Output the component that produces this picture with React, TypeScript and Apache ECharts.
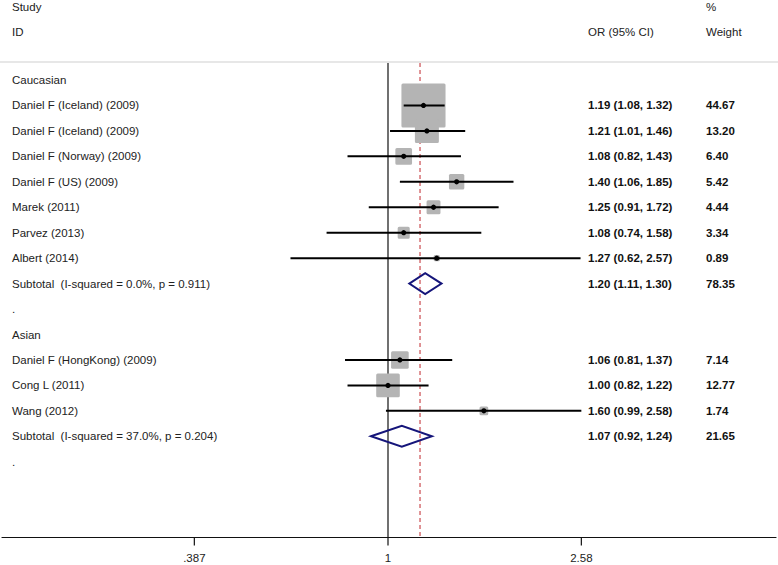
import React, { useEffect, useRef } from "react";
import * as echarts from "echarts";

const rowLabels = [
  "Caucasian",
  "Daniel F (Iceland) (2009)",
  "Daniel F (Iceland) (2009)",
  "Daniel F (Norway) (2009)",
  "Daniel F (US) (2009)",
  "Marek (2011)",
  "Parvez (2013)",
  "Albert (2014)",
  "Subtotal  (I-squared = 0.0%, p = 0.911)",
  ".",
  "Asian",
  "Daniel F (HongKong) (2009)",
  "Cong L (2011)",
  "Wang (2012)",
  "Subtotal  (I-squared = 37.0%, p = 0.204)",
  ".",
];

const studyRows = [1, 2, 3, 4, 5, 6, 7, 11, 12, 13];
const studyOR = [1.19, 1.21, 1.08, 1.4, 1.25, 1.08, 1.27, 1.06, 1.0, 1.6];
const studyLower = [1.08, 1.01, 0.82, 1.06, 0.91, 0.74, 0.62, 0.81, 0.82, 0.99];
const studyUpper = [1.32, 1.46, 1.43, 1.85, 1.72, 1.58, 2.57, 1.37, 1.22, 2.58];
const studyWeight = [44.67, 13.2, 6.4, 5.42, 4.44, 3.34, 0.89, 7.14, 12.77, 1.74];

const subtotalRows = [8, 14];
const subtotalOR = [1.2, 1.07];
const subtotalLower = [1.11, 0.92];
const subtotalUpper = [1.3, 1.24];
const subtotalWeight = [78.35, 21.65];

const overallOR = 1.17;

const tickValues = [0.387, 1, 2.58];
const tickLabels = [".387", "1", "2.58"];

const FONT = "'Liberation Sans', Arial, Helvetica, sans-serif";
const TEXT_COLOR = "#222";
const FS = 11.5;

const ROW_H = 25.45;
const FIRST_ROW_Y = 80;
const AXIS_Y = 537.5;
const H = 565;
const W = 778;
const Y_MIN = -FIRST_ROW_Y / ROW_H;
const Y_MAX = Y_MIN + AXIS_Y / ROW_H;
const Y_LINE_TOP = (63 - FIRST_ROW_Y) / ROW_H;

const PX_PER_LN = 204;
const X_MIN = -(388 - 2) / PX_PER_LN;
const X_MAX = (776 - 388) / PX_PER_LN;

const fmt = (v: number) => v.toFixed(2);

export default function App() {
  const ref = useRef<HTMLDivElement>(null);

  useEffect(() => {
    if (!ref.current) return;
    const chart = echarts.init(ref.current, undefined, { renderer: "svg" });

    const studyData = studyRows.map((r, i) => [
      Math.log(studyOR[i]),
      r,
      Math.log(studyLower[i]),
      Math.log(studyUpper[i]),
      studyWeight[i],
    ]);
    const subtotalData = subtotalRows.map((r, i) => [
      Math.log(subtotalOR[i]),
      r,
      Math.log(subtotalLower[i]),
      Math.log(subtotalUpper[i]),
      subtotalWeight[i],
    ]);
    const labelData = rowLabels.map((t, i) => [0, i, t]);
    const numberData = [
      ...studyRows.map((r, i) => [
        0,
        r,
        `${fmt(studyOR[i])} (${fmt(studyLower[i])}, ${fmt(studyUpper[i])})`,
        fmt(studyWeight[i]),
      ]),
      ...subtotalRows.map((r, i) => [
        0,
        r,
        `${fmt(subtotalOR[i])} (${fmt(subtotalLower[i])}, ${fmt(subtotalUpper[i])})`,
        fmt(subtotalWeight[i]),
      ]),
    ];

    const textStyle = (text: string, bold = false) => ({
      text,
      fill: bold ? "#111" : TEXT_COLOR,
      fontSize: FS,
      fontFamily: FONT,
      fontWeight: bold ? "bold" : "normal",
      verticalAlign: "middle",
      align: "left",
    });

    const tickLn = tickValues.map((v) => Math.log(v));
    const tickData = tickLn.map((v) => [v, Y_MAX]);

    const option: any = {
      animation: false,
      grid: { left: 2, right: W - 776, top: 0, bottom: H - AXIS_Y, containLabel: false },
      xAxis: {
        type: "value",
        min: X_MIN,
        max: X_MAX,
        splitLine: { show: false },
        axisLine: { show: true, onZero: false, lineStyle: { color: "#111", width: 1.2 } },
        axisTick: { show: false },
        axisLabel: {
          show: true,
          margin: 14,
          color: TEXT_COLOR,
          fontSize: FS,
          fontFamily: FONT,
          customValues: tickLn,
          formatter: (v: number) => {
            let best = 0;
            tickLn.forEach((t, i) => {
              if (Math.abs(t - v) < Math.abs(tickLn[best] - v)) best = i;
            });
            return tickLabels[best];
          },
        },
      },
      yAxis: {
        type: "value",
        inverse: true,
        min: Y_MIN,
        max: Y_MAX,
        show: false,
      },
      graphic: [
        { type: "line", shape: { x1: 0, y1: 62, x2: W, y2: 62 }, style: { stroke: "#cfcfcf", lineWidth: 1 } },
        { type: "text", x: 12, y: 7, style: textStyle("Study") },
        { type: "text", x: 12, y: 32, style: textStyle("ID") },
        { type: "text", x: 588, y: 32, style: textStyle("OR (95% CI)") },
        { type: "text", x: 706, y: 7, style: textStyle("%") },
        { type: "text", x: 706, y: 32, style: textStyle("Weight") },
      ],
      series: [
        {
          type: "line",
          data: [
            [0, Y_LINE_TOP],
            [0, Y_MAX],
          ],
          symbol: "none",
          lineStyle: { color: "#111", width: 1.2 },
          z: 1,
        },
        {
          type: "line",
          data: [
            [Math.log(overallOR), Y_LINE_TOP],
            [Math.log(overallOR), Y_MAX],
          ],
          symbol: "none",
          lineStyle: { color: "#c0282d", width: 1, type: [4, 3] },
          z: 1,
        },
        {
          type: "custom",
          z: 1,
          clip: false,
          data: tickData,
          renderItem: (params: any, api: any) => {
            const c = api.coord([api.value(0), api.value(1)]);
            return {
              type: "line",
              shape: { x1: c[0], y1: c[1], x2: c[0], y2: c[1] + 8 },
              style: { stroke: "#111", lineWidth: 1.2 },
            };
          },
        },
        {
          type: "custom",
          z: 2,
          data: studyData,
          renderItem: (params: any, api: any) => {
            const c = api.coord([api.value(0), api.value(1)]);
            const s = 6.6 * Math.sqrt(api.value(4));
            return {
              type: "rect",
              shape: { x: c[0] - s / 2, y: c[1] - s / 2, width: s, height: s, r: 1.5 },
              style: { fill: "#b4b4b4" },
            };
          },
        },
        {
          type: "custom",
          z: 3,
          data: studyData,
          renderItem: (params: any, api: any) => {
            const c = api.coord([api.value(0), api.value(1)]);
            const lo = api.coord([api.value(2), api.value(1)]);
            const hi = api.coord([api.value(3), api.value(1)]);
            return {
              type: "group",
              children: [
                {
                  type: "line",
                  shape: { x1: lo[0], y1: lo[1], x2: hi[0], y2: hi[1] },
                  style: { stroke: "#000", lineWidth: 2 },
                },
                {
                  type: "circle",
                  shape: { cx: c[0], cy: c[1], r: 2.6 },
                  style: { fill: "#000" },
                },
              ],
            };
          },
        },
        {
          type: "custom",
          z: 3,
          data: subtotalData,
          renderItem: (params: any, api: any) => {
            const c = api.coord([api.value(0), api.value(1)]);
            const lo = api.coord([api.value(2), api.value(1)]);
            const hi = api.coord([api.value(3), api.value(1)]);
            const h = 10.5;
            return {
              type: "polygon",
              shape: {
                points: [
                  [lo[0], c[1]],
                  [c[0], c[1] - h],
                  [hi[0], c[1]],
                  [c[0], c[1] + h],
                ],
              },
              style: { fill: "none", stroke: "#15157a", lineWidth: 2 },
            };
          },
        },
        {
          type: "custom",
          z: 4,
          data: labelData,
          renderItem: (params: any, api: any) => {
            const c = api.coord([0, api.value(1)]);
            return {
              type: "text",
              x: 12,
              y: c[1],
              style: textStyle(String(labelData[params.dataIndex][2])),
            };
          },
        },
        {
          type: "custom",
          z: 4,
          data: numberData,
          renderItem: (params: any, api: any) => {
            const c = api.coord([0, api.value(1)]);
            const d = numberData[params.dataIndex];
            return {
              type: "group",
              children: [
                { type: "text", x: 588, y: c[1], style: textStyle(String(d[2]), true) },
                { type: "text", x: 706, y: c[1], style: textStyle(String(d[3]), true) },
              ],
            };
          },
        },
      ],
    };

    chart.setOption(option);
    return () => chart.dispose();
  }, []);

  return (
    <div
      ref={ref}
      style={{ position: "fixed", left: 0, top: 0, width: W, height: H, background: "#fff" }}
    />
  );
}
